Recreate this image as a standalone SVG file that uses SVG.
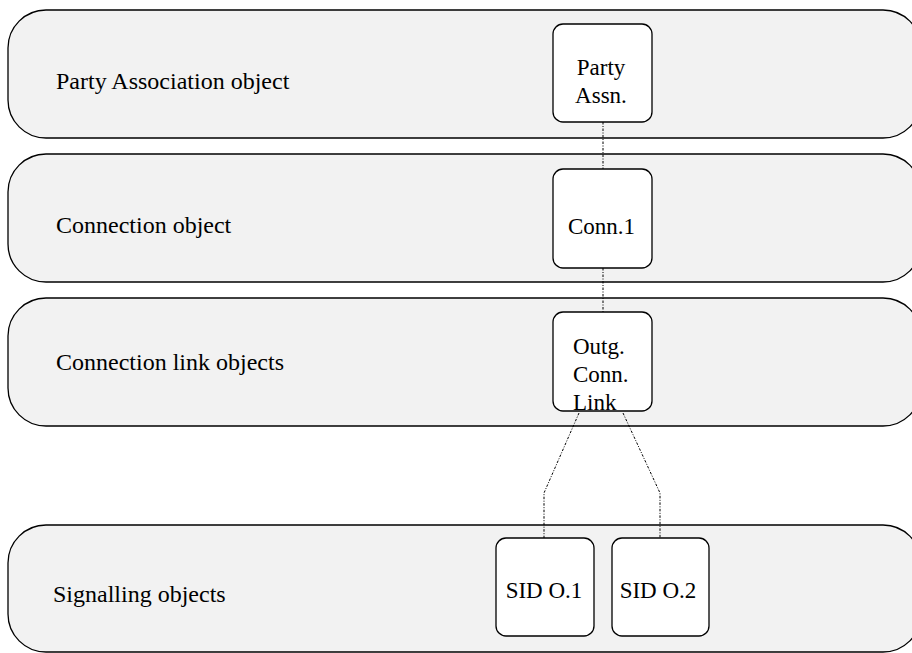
<svg xmlns="http://www.w3.org/2000/svg" width="912" height="653" viewBox="0 0 912 653">
<style>
.band{fill:#f2f2f2;stroke:#000;stroke-width:1.3}
.box{fill:#fff;stroke:#000;stroke-width:1.3}
.conn{fill:none;stroke:#000;stroke-width:1;stroke-dasharray:2.5 1.5 1 1.5}
</style>
<rect width="912" height="653" fill="#fff"/>
<g font-family="'Liberation Serif', 'DejaVu Serif', serif" fill="#000">
<g id="band-party">
<rect class="band" x="8" y="10" width="913" height="128" rx="38" ry="38"/>
<text x="56" y="89" font-size="24">Party Association object</text>
</g>
<g id="band-connection">
<rect class="band" x="8" y="154" width="913" height="128" rx="38" ry="38"/>
<text x="56" y="233" font-size="24">Connection object</text>
</g>
<g id="band-link">
<rect class="band" x="8" y="298" width="913" height="128" rx="38" ry="38"/>
<text x="56" y="370" font-size="24">Connection link objects</text>
</g>
<g id="band-signalling">
<rect class="band" x="8" y="525" width="913" height="127" rx="38" ry="38"/>
<text x="53" y="602" font-size="24">Signalling objects</text>
</g>
<g id="connectors">
<path class="conn" d="M603 122V169"/>
<path class="conn" d="M603 268V312"/>
<path class="conn" d="M579 413L544 493V538"/>
<path class="conn" d="M623 413L660 493V538"/>
</g>
<g id="node-party-assn">
<rect class="box" x="553" y="24" width="99" height="98" rx="10" ry="10"/>
<text x="601" y="75" font-size="23" text-anchor="middle">Party</text>
<text x="601" y="103" font-size="23" text-anchor="middle">Assn.</text>
</g>
<g id="node-conn1">
<rect class="box" x="553" y="169" width="99" height="99" rx="10" ry="10"/>
<text x="601.5" y="234" font-size="23" text-anchor="middle">Conn.1</text>
</g>
<g id="node-outg">
<rect class="box" x="553" y="312" width="99" height="99" rx="10" ry="10"/>
<text x="573" y="354" font-size="23">Outg.</text>
<text x="573" y="382" font-size="23">Conn.</text>
<text x="573" y="410" font-size="23">Link</text>
</g>
<g id="node-sid1">
<rect class="box" x="496" y="538" width="98" height="98" rx="10" ry="10"/>
<text x="544" y="598" font-size="23" text-anchor="middle">SID O.1</text>
</g>
<g id="node-sid2">
<rect class="box" x="612" y="538" width="97" height="98" rx="10" ry="10"/>
<text x="658" y="598" font-size="23" text-anchor="middle">SID O.2</text>
</g>
</g>
</svg>
